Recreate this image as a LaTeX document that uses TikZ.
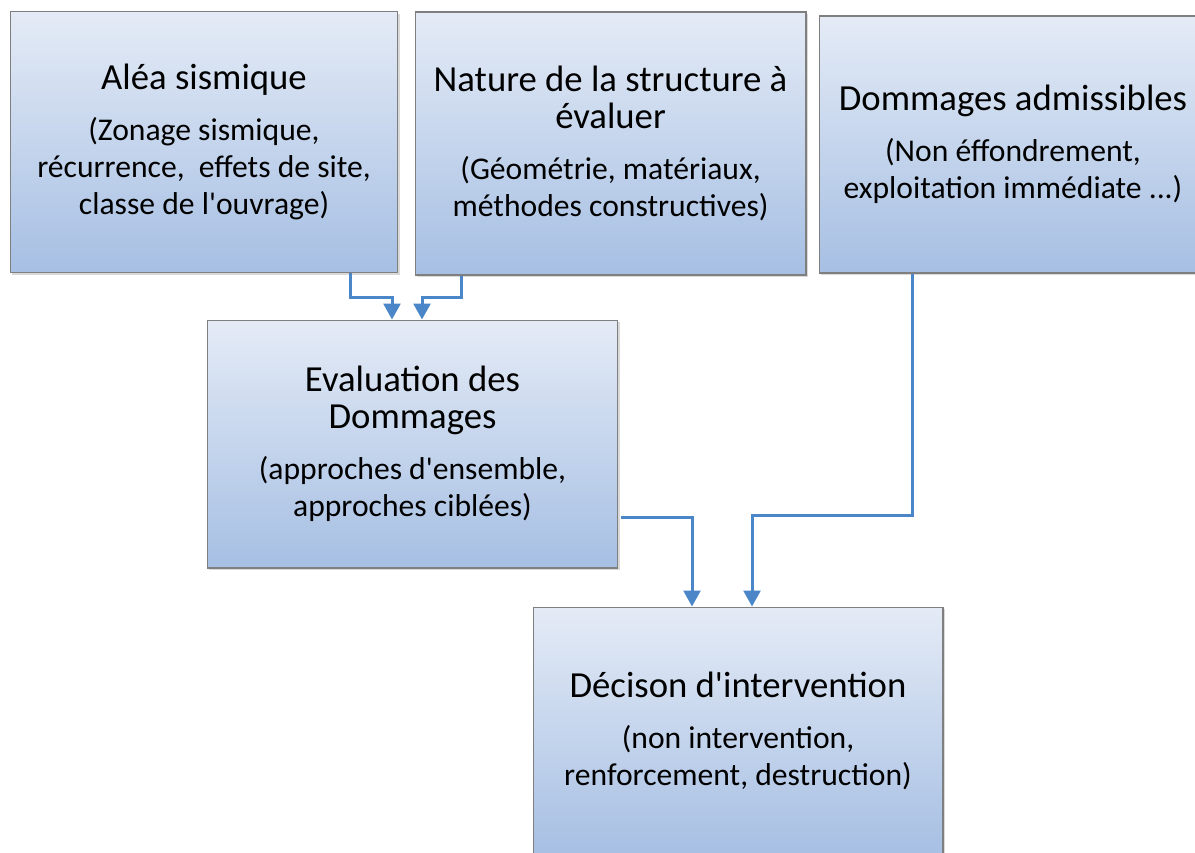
\documentclass[tikz,border=0pt]{standalone}
\usepackage{fontspec}
\setmainfont{Carlito}
\usetikzlibrary{arrows.meta,calc,shadows}

\definecolor{boxtop}{HTML}{E4EBF6}
\definecolor{boxbot}{HTML}{A6BFE3}
\definecolor{boxline}{HTML}{7F7F7F}
\definecolor{flowblue}{HTML}{4A86C8}

\newcommand{\titlesize}{\fontsize{20.9}{21}\selectfont}
\newcommand{\notesize}{\fontsize{18}{21}\selectfont}

\tikzset{
  stage/.style={draw=boxline, line width=0.6pt, top color=boxtop, bottom color=boxbot,
    align=center, inner sep=0pt, font=\notesize,
    drop shadow={shadow xshift=1.2pt, shadow yshift=-1.2pt, opacity=0.3}},
  flow/.style={draw=flowblue, line width=1.7pt, -{Triangle[length=9pt,width=9.5pt]}}
}

\begin{document}
\begin{tikzpicture}[x=0.02cm,y=-0.02cm]
\useasboundingbox (0,0) rectangle (1195,852);
\clip (0,0) rectangle (1195,852);

% Input boxes
\node[stage, minimum width=7.76cm, minimum height=5.22cm] (alea) at (204,142)
  {\titlesize Aléa sismique\\[8pt]
   \notesize (Zonage sismique,\\ \notesize récurrence,~ effets de site,\\
   \notesize classe de l\textquotesingle ouvrage)};
\node[stage, minimum width=7.82cm, minimum height=5.26cm] (nature) at (610.5,143.5)
  {\titlesize Nature de la structure à\\ \titlesize évaluer\\[8pt]
   \notesize (Géométrie, matériaux,\\ \notesize méthodes constructives)};
\node[stage, minimum width=7.76cm, minimum height=5.14cm] (admis) at (1013,144.5)
  {\titlesize Dommages admissibles\\[8pt]
   \notesize (Non éffondrement,\\ \notesize exploitation immédiate ...)};

% Evaluation and decision
\node[stage, minimum width=8.22cm, minimum height=4.96cm] (eval) at (412.5,444)
  {\titlesize Evaluation des\\ \titlesize Dommages\\[8pt]
   \notesize (approches d\textquotesingle ensemble,\\ \notesize approches ciblées)};
\node[stage, minimum width=8.2cm, minimum height=4.96cm] (decision) at (738,731)
  {\titlesize Décison d\textquotesingle intervention\\[8pt]
   \notesize (non intervention,\\ \notesize renforcement, destruction)};

% Connectors
\draw[flow] ($(alea.south)+(146,0)$) -- ++(0,24) -| ($(eval.north)+(-20.5,0)$);
\draw[flow] ($(nature.south)+(-149.5,0)$) -- ++(0,22) -| ($(eval.north)+(9.5,0)$);
\draw[flow] ($(eval.east)+(3,73)$) -| ($(decision.north)+(-46,0)$);
\draw[flow] ($(admis.south)+(-101,0)$) -- ++(0,242) -| ($(decision.north)+(14,0)$);
\end{tikzpicture}
\end{document}
